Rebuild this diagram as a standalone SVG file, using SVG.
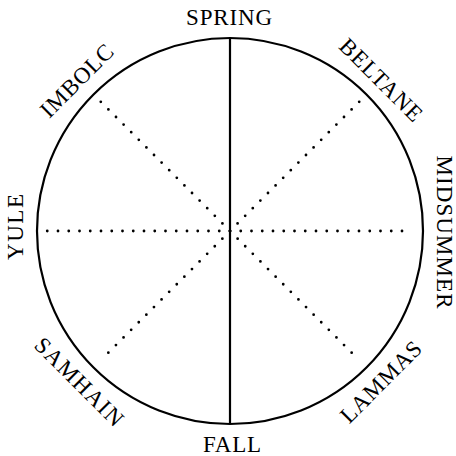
<svg xmlns="http://www.w3.org/2000/svg" width="456" height="456" viewBox="0 0 456 456">
  <style>
    .lbl { font-family: "Liberation Serif", "Times New Roman", serif; font-size: 23px; fill: #000; text-anchor: middle; }
    .dots { stroke: #000; stroke-width: 2.8; stroke-linecap: round; stroke-dasharray: 0 10.75; fill: none; }
    .solid { stroke: #000; stroke-width: 2.2; fill: none; }
  </style>
  <rect width="456" height="456" fill="#fff"/>
  <g id="wheel">
    <circle class="solid" cx="230" cy="231" r="193"/>
  </g>
  <g id="connectors">
    <line class="solid" x1="230" y1="38" x2="230" y2="424"/>
    <line class="dots" x1="47.25" y1="231" x2="412.75" y2="231"/>
    <line class="dots" x1="100.8" y1="101.8" x2="359.2" y2="360.2"/>
    <line class="dots" x1="359.2" y1="101.8" x2="100.8" y2="360.2"/>
  </g>
  <g id="spring"><text class="lbl" x="229" y="25" textLength="86" lengthAdjust="spacing">SPRING</text></g>
  <g id="beltane" transform="rotate(45 230 231)"><text class="lbl" x="230" y="25" textLength="107" lengthAdjust="spacing">BELTANE</text></g>
  <g id="midsummer" transform="rotate(90 230 231)"><text class="lbl" x="231" y="24" textLength="153" lengthAdjust="spacing">MIDSUMMER</text></g>
  <g id="imbolc" transform="rotate(-45 230 231)"><text class="lbl" x="228" y="24" textLength="93" lengthAdjust="spacing">IMBOLC</text></g>
  <g id="yule" transform="rotate(-90 230 231)"><text class="lbl" x="234" y="24" textLength="66" lengthAdjust="spacing">YULE</text></g>
  <g id="fall"><text class="lbl" x="232" y="452" textLength="58" lengthAdjust="spacing">FALL</text></g>
  <g id="lammas" transform="rotate(-45 230 231)"><text class="lbl" x="230" y="452" textLength="105" lengthAdjust="spacing">LAMMAS</text></g>
  <g id="samhain" transform="rotate(45 230 231)"><text class="lbl" x="230" y="452" textLength="115" lengthAdjust="spacing">SAMHAIN</text></g>
</svg>
